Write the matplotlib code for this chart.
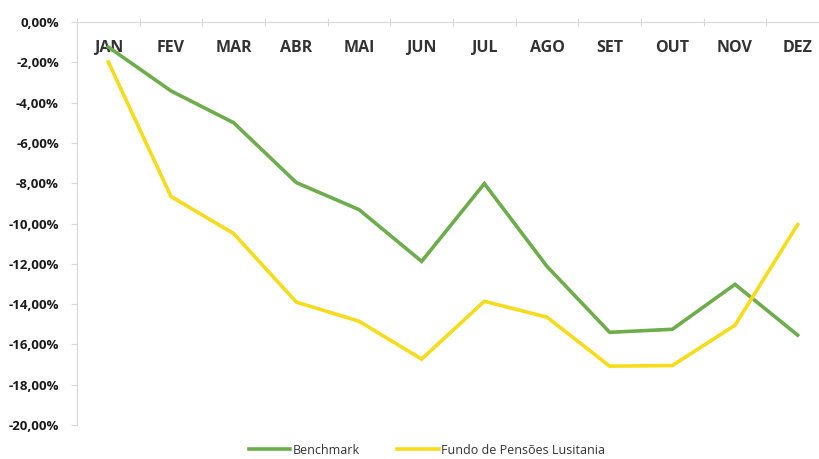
import matplotlib
matplotlib.use("Agg")
import matplotlib.pyplot as plt
import numpy as np

months = ["JAN", "FEV", "MAR", "ABR", "MAI", "JUN", "JUL", "AGO", "SET", "OUT", "NOV", "DEZ"]
benchmark = [-1.24, -3.42, -5.0, -7.97, -9.31, -11.88, -8.02, -12.13, -15.4, -15.25, -13.02, -15.54]
fundo = [-1.98, -8.66, -10.5, -13.9, -14.85, -16.73, -13.86, -14.65, -17.08, -17.05, -15.05, -10.05]
yticks = [0, -2, -4, -6, -8, -10, -12, -14, -16, -18, -20]

fig = plt.figure(figsize=(8.19, 4.59), dpi=100)
ax = fig.add_axes([77/819, 1-425/459, (829-77)/819, (425-22)/459])

x = np.arange(len(months))
ax.plot(x, benchmark, color="#6ead4c", lw=2.6, solid_joinstyle="miter", label="Benchmark")
ax.plot(x, fundo, color="#f7dc1c", lw=2.6, solid_joinstyle="miter", label="Fundo de Pensões Lusitania")

ax.set_xlim(-0.5, len(months) - 0.5)
ax.set_ylim(-20, 0)

for s in ["right", "top"]:
    ax.spines[s].set_visible(False)
ax.spines["bottom"].set_position(("data", 0))
ax.spines["bottom"].set_color("#d9d9d9")
ax.spines["left"].set_color("#d9d9d9")
ax.spines["bottom"].set_zorder(0)

ax.set_xticks(np.arange(len(months) + 1) - 0.5)
ax.set_xticklabels([])
ax.set_xticks(x, minor=True)
ax.set_xticklabels(months, minor=True, fontsize=11.5, fontweight="bold", color="#333333",
                   family=["Open Sans", "DejaVu Sans"])
ax.tick_params(axis="x", which="major", direction="inout", length=6, color="#d9d9d9")
ax.tick_params(axis="x", which="minor", length=0, pad=13)

ax.set_yticks(yticks)
ax.set_yticklabels([f"{v:.2f}".replace(".", ",") + "%" for v in yticks],
                   fontsize=9.5, fontweight="bold", color="#1a1a1a",
                   family=["Open Sans", "DejaVu Sans"])
ax.tick_params(axis="y", direction="out", length=4, color="#d9d9d9", pad=9)

leg = fig.legend(loc="center", bbox_to_anchor=(427/819, 1-450/459), ncol=2, frameon=False,
                 prop={"family": ["Open Sans", "DejaVu Sans"], "size": 9},
                 handlelength=3.3, handletextpad=0.2, columnspacing=3.0)
for t in leg.get_texts():
    t.set_color("#333333")

fig.savefig("out.png", dpi=100)
